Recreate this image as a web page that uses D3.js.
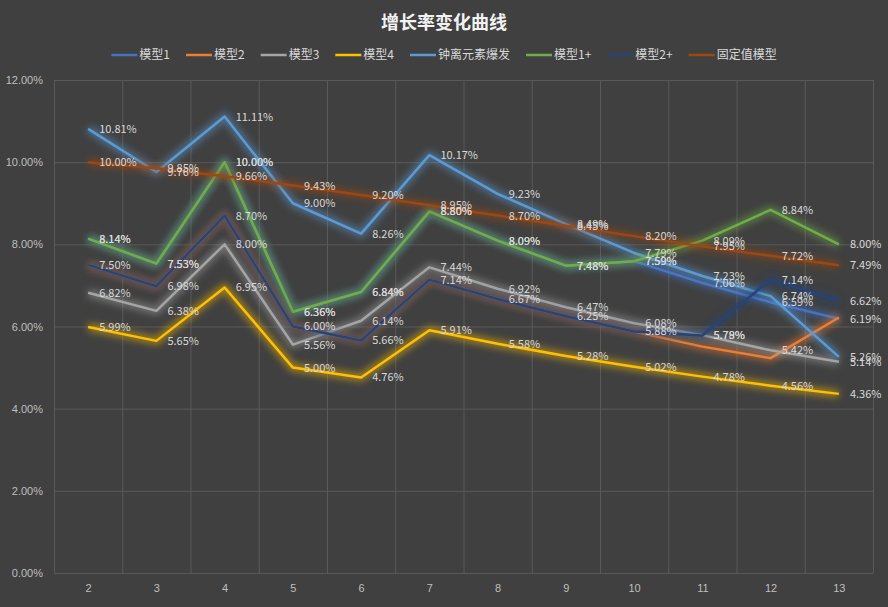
<!DOCTYPE html>
<html>
<head>
<meta charset="utf-8">
<script src="https://cdn.jsdelivr.net/npm/d3@7"></script>
<style>
  html, body { margin: 0; padding: 0; background: #404040; }
  svg { display: block; font-family: "Noto Sans CJK SC", "Noto Sans", sans-serif; }
</style>
</head>
<body>
<div id="chart"></div>
<script>
var categories = [2, 3, 4, 5, 6, 7, 8, 9, 10, 11, 12, 13]
var yTicks = [0, 2, 4, 6, 8, 10, 12]

var model1 = [8.14, 7.53, 10.00, 6.36, 6.84, 8.80, 8.09, 7.48, 7.59, 7.06, 6.59, 6.19]
var model2 = [7.50, 6.98, 8.70, 6.00, 5.66, 7.14, 6.67, 6.25, 5.88, 5.51, 5.23, 6.22]
var model3 = [6.82, 6.38, 8.00, 5.56, 6.14, 7.44, 6.92, 6.47, 6.08, 5.79, 5.42, 5.14]
var model4 = [5.99, 5.65, 6.95, 5.00, 4.76, 5.91, 5.58, 5.28, 5.02, 4.78, 4.56, 4.36]
var burst = [10.81, 9.76, 11.11, 9.00, 8.26, 10.17, 9.23, 8.49, 7.79, 7.23, 6.74, 5.26]
var model1p = [8.14, 7.53, 10.00, 6.36, 6.84, 8.80, 8.09, 7.48, 7.59, 8.09, 8.84, 8.00]
var model2p = [7.50, 6.98, 8.70, 6.00, 5.66, 7.14, 6.67, 6.25, 5.88, 5.78, 7.14, 6.62]
var fixed = [10.00, 9.85, 9.66, 9.43, 9.20, 8.95, 8.70, 8.45, 8.20, 7.95, 7.72, 7.49]

var seriesNames = ['模型1', '模型2', '模型3', '模型4', '钟离元素爆发', '模型1+', '模型2+', '固定值模型']
var seriesValues = [model1, model2, model3, model4, burst, model1p, model2p, fixed]
var seriesColors = ['#4472c4', '#ed7d31', '#a5a5a5', '#ffc000', '#5b9bd5', '#70ad47', '#264478', '#9e480e']
var seriesLabeled = [true, false, true, true, true, true, true, true]

var w = 888,
    h = 607

var svg = d3.select('#chart')
    .append('svg')
    .attr('width', w)
    .attr('height', h)

svg.append('rect')
    .attr('width', w)
    .attr('height', h)
    .attr('fill', '#404040')

// glow
var defs = svg.append('defs')
defs.append('filter')
    .attr('id', 'glow')
    .attr('x', '-20%').attr('y', '-20%')
    .attr('width', '140%').attr('height', '140%')
    .append('feGaussianBlur')
    .attr('stdDeviation', 3.5)

// scales
var xscale = d3.scalePoint()
    .domain(categories)
    .range([54, 873])
    .padding(0.5)

var xband = d3.scaleBand()
    .domain(categories)
    .range([54, 873])

var yscale = d3.scaleLinear()
    .domain([0, 12])
    .range([573, 80])

// grid
svg.append('g')
    .selectAll('line')
    .data(yTicks)
    .enter()
    .append('line')
    .attr('x1', 54)
    .attr('x2', 873)
    .attr('y1', d => yscale(d) + 0.5)
    .attr('y2', d => yscale(d) + 0.5)
    .attr('stroke', '#595959')
    .attr('stroke-width', 1)

svg.append('g')
    .selectAll('line')
    .data(categories.map(c => xband(c)).concat([873]))
    .enter()
    .append('line')
    .attr('x1', d => d + 0.5)
    .attr('x2', d => d + 0.5)
    .attr('y1', 80)
    .attr('y2', 573)
    .attr('stroke', '#595959')
    .attr('stroke-width', 1)

// axes
var yaxis = d3.axisLeft(yscale)
    .tickValues(yTicks)
    .tickSize(0)
    .tickPadding(0)
    .tickFormat(d => d.toFixed(2) + '%')
var yg = svg.append('g')
    .attr('transform', 'translate(43, 0)')
    .call(yaxis)
yg.select('.domain').remove()
yg.selectAll('text')
    .attr('fill', '#bfbfbf')
    .style('font-size', '11px')

var xaxis = d3.axisBottom(xscale)
    .tickSize(0)
    .tickPadding(0)
var xg = svg.append('g')
    .attr('transform', 'translate(0, 584)')
    .call(xaxis)
xg.select('.domain').remove()
xg.selectAll('text')
    .attr('fill', '#bfbfbf')
    .style('font-size', '11px')

// lines
var line = d3.line()
    .x((d, i) => xscale(categories[i]))
    .y(d => yscale(d))

seriesValues.forEach(function (vals, k) {
    var g = svg.append('g')
    g.append('path')
        .attr('d', line(vals))
        .attr('fill', 'none')
        .attr('stroke', seriesColors[k])
        .attr('stroke-width', 8)
        .attr('stroke-opacity', 0.5)
        .attr('stroke-linejoin', 'round')
        .attr('filter', 'url(#glow)')
    g.append('path')
        .attr('d', line(vals))
        .attr('fill', 'none')
        .attr('stroke', seriesColors[k])
        .attr('stroke-width', 2.5)
        .attr('stroke-linejoin', 'round')
})

// data labels
seriesValues.forEach(function (vals, k) {
    if (!seriesLabeled[k]) return
    svg.append('g')
        .selectAll('text')
        .data(vals)
        .enter()
        .append('text')
        .text(d => d.toFixed(2) + '%')
        .attr('x', (d, i) => xscale(categories[i]) + 11)
        .attr('y', d => yscale(d))
        .attr('dy', '0.36em')
        .attr('fill', '#d9d9d9')
        .style('font-size', '11px')
})

// title
svg.append('text')
    .text('增长率变化曲线')
    .attr('text-anchor', 'middle')
    .attr('x', w / 2)
    .attr('y', 29)
    .attr('fill', '#f2f2f2')
    .style('font-size', '18px')
    .style('font-weight', 'bold')

// legend
var legend = svg.append('g')
var lx = 0
seriesNames.forEach(function (name, k) {
    var item = legend.append('g').attr('transform', `translate(${lx}, 0)`)
    item.append('line')
        .attr('x1', 0).attr('x2', 26)
        .attr('y1', 0).attr('y2', 0)
        .attr('stroke', seriesColors[k])
        .attr('stroke-width', 2.5)
    var t = item.append('text')
        .text(name)
        .attr('x', 28)
        .attr('y', 0)
        .attr('dy', '0.35em')
        .attr('fill', '#d9d9d9')
        .style('font-size', '12px')
    lx += 28 + t.node().getComputedTextLength() + 16
})
legend.attr('transform', `translate(${(w - (lx - 16)) / 2}, 55)`)
</script>
</body>
</html>
